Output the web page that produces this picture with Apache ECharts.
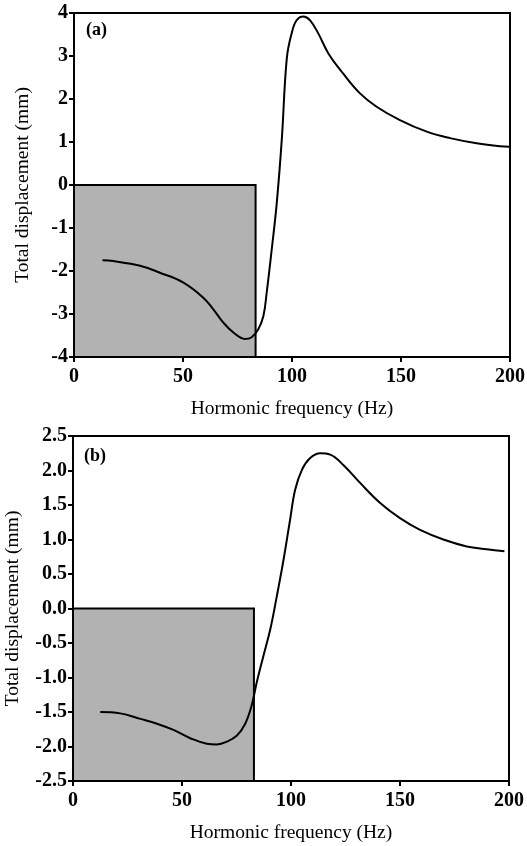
<!DOCTYPE html>
<html>
<head>
<meta charset="utf-8">
<script src="https://cdn.jsdelivr.net/npm/echarts@6/dist/echarts.min.js"></script>
<style>
html, body { margin: 0; padding: 0; background: #fff; }
#main { width: 527px; height: 846px; }
</style>
</head>
<body>
<div id="main"></div>
<script>
// panel (a)
var freqA = [13.1, 18, 30.3, 39.4, 50.2, 59.3, 63.9, 68.5, 73.1, 78.4, 81.5, 84.6, 86.9, 88.4, 90.7, 93, 95.3, 97.6, 99.8, 102.1, 105.2, 108.3, 112.1, 116.7, 123.5, 131.2, 138.8, 149.5, 161.8, 172.5, 184.7, 195.4, 199.7];
var dispA = [-1.75, -1.77, -1.88, -2.04, -2.27, -2.62, -2.89, -3.20, -3.43, -3.58, -3.54, -3.35, -3.04, -2.50, -1.50, -0.42, 1.05, 2.94, 3.52, 3.83, 3.92, 3.83, 3.52, 3.06, 2.59, 2.13, 1.82, 1.51, 1.24, 1.09, 0.97, 0.90, 0.89];
// panel (b)
var freqB = [12.5, 21.7, 30.9, 38.5, 46.1, 53.8, 61.4, 66, 70.6, 75.2, 79, 82, 84.3, 87.4, 90.5, 93.5, 96.6, 99.6, 101.9, 105, 108.8, 113.4, 118, 124, 131.7, 140.9, 150, 159.2, 169.9, 180.6, 189.8, 197.9];
var dispB = [-1.50, -1.52, -1.60, -1.67, -1.76, -1.88, -1.96, -1.97, -1.93, -1.84, -1.67, -1.40, -1.07, -0.68, -0.30, 0.18, 0.71, 1.29, 1.72, 2.01, 2.18, 2.25, 2.23, 2.08, 1.82, 1.53, 1.31, 1.14, 1.00, 0.90, 0.86, 0.83];
// shaded boxes [x0, y0, x1, y1]
var boxA = [0, -4, 83.3, 0];
var boxB = [0, -2.5, 83, 0];
var panelLabels = ['(a)', '(b)'];

var font = 'Liberation Serif, Times New Roman, serif';

function pairs(xs, ys) {
    var out = [];
    for (var i = 0; i < xs.length; i++) out.push([xs[i], ys[i]]);
    return out;
}

function xAx(idx) {
    return {
        type: 'value', gridIndex: idx, min: 0, max: 200, interval: 50,
        name: 'Hormonic frequency (Hz)', nameLocation: 'middle', nameGap: 42,
        nameTextStyle: { fontFamily: font, fontSize: 19.5, color: '#000' },
        axisLine: { onZero: false, lineStyle: { color: '#000', width: 2 } },
        axisTick: { length: 5, lineStyle: { color: '#000', width: 2 } },
        axisLabel: { fontFamily: font, fontSize: 20, fontWeight: 'bold', color: '#000', margin: 10 },
        splitLine: { show: false }
    };
}

function yAx(idx, min, max, interval, gap, fmt) {
    return {
        type: 'value', gridIndex: idx, min: min, max: max, interval: interval,
        name: 'Total displacement (mm)', nameLocation: 'middle', nameGap: gap,
        nameTextStyle: { fontFamily: font, fontSize: 19.5, color: '#000' },
        axisLine: { onZero: false, lineStyle: { color: '#000', width: 2 } },
        axisTick: { length: 5, lineStyle: { color: '#000', width: 2 } },
        axisLabel: { fontFamily: font, fontSize: 20, fontWeight: 'bold', color: '#000', margin: 6, formatter: fmt },
        splitLine: { show: false }
    };
}

function series(idx, xs, ys, box) {
    return {
        type: 'line', xAxisIndex: idx, yAxisIndex: idx,
        data: pairs(xs, ys), smooth: 0.4, showSymbol: false,
        lineStyle: { color: '#000', width: 2 },
        markArea: {
            silent: true,
            itemStyle: { color: '#b2b2b2', borderColor: '#000', borderWidth: 2 },
            data: [[{ coord: [box[0], box[1]] }, { coord: [box[2], box[3]] }]]
        },
        z: 3
    };
}

var myChart = echarts.init(document.getElementById('main'));
var option = {
    animation: false,
    grid: [
        { left: 74, right: 17, top: 13, height: 344, show: true, borderColor: '#000', borderWidth: 2, outerBoundsMode: 'none' },
        { left: 73, right: 18, top: 436, height: 345, show: true, borderColor: '#000', borderWidth: 2, outerBoundsMode: 'none' }
    ],
    xAxis: [xAx(0), xAx(1)],
    yAxis: [
        yAx(0, -4, 4, 1, 41, function (v) { return String(v); }),
        yAx(1, -2.5, 2.5, 0.5, 50, function (v) { return v.toFixed(1); })
    ],
    graphic: [
        { type: 'text', left: 86, top: 21, style: { text: panelLabels[0], font: 'bold 18px ' + font, fill: '#000' } },
        { type: 'text', left: 84, top: 447, style: { text: panelLabels[1], font: 'bold 18px ' + font, fill: '#000' } }
    ],
    series: [series(0, freqA, dispA, boxA), series(1, freqB, dispB, boxB)]
};
myChart.setOption(option);
</script>
</body>
</html>
